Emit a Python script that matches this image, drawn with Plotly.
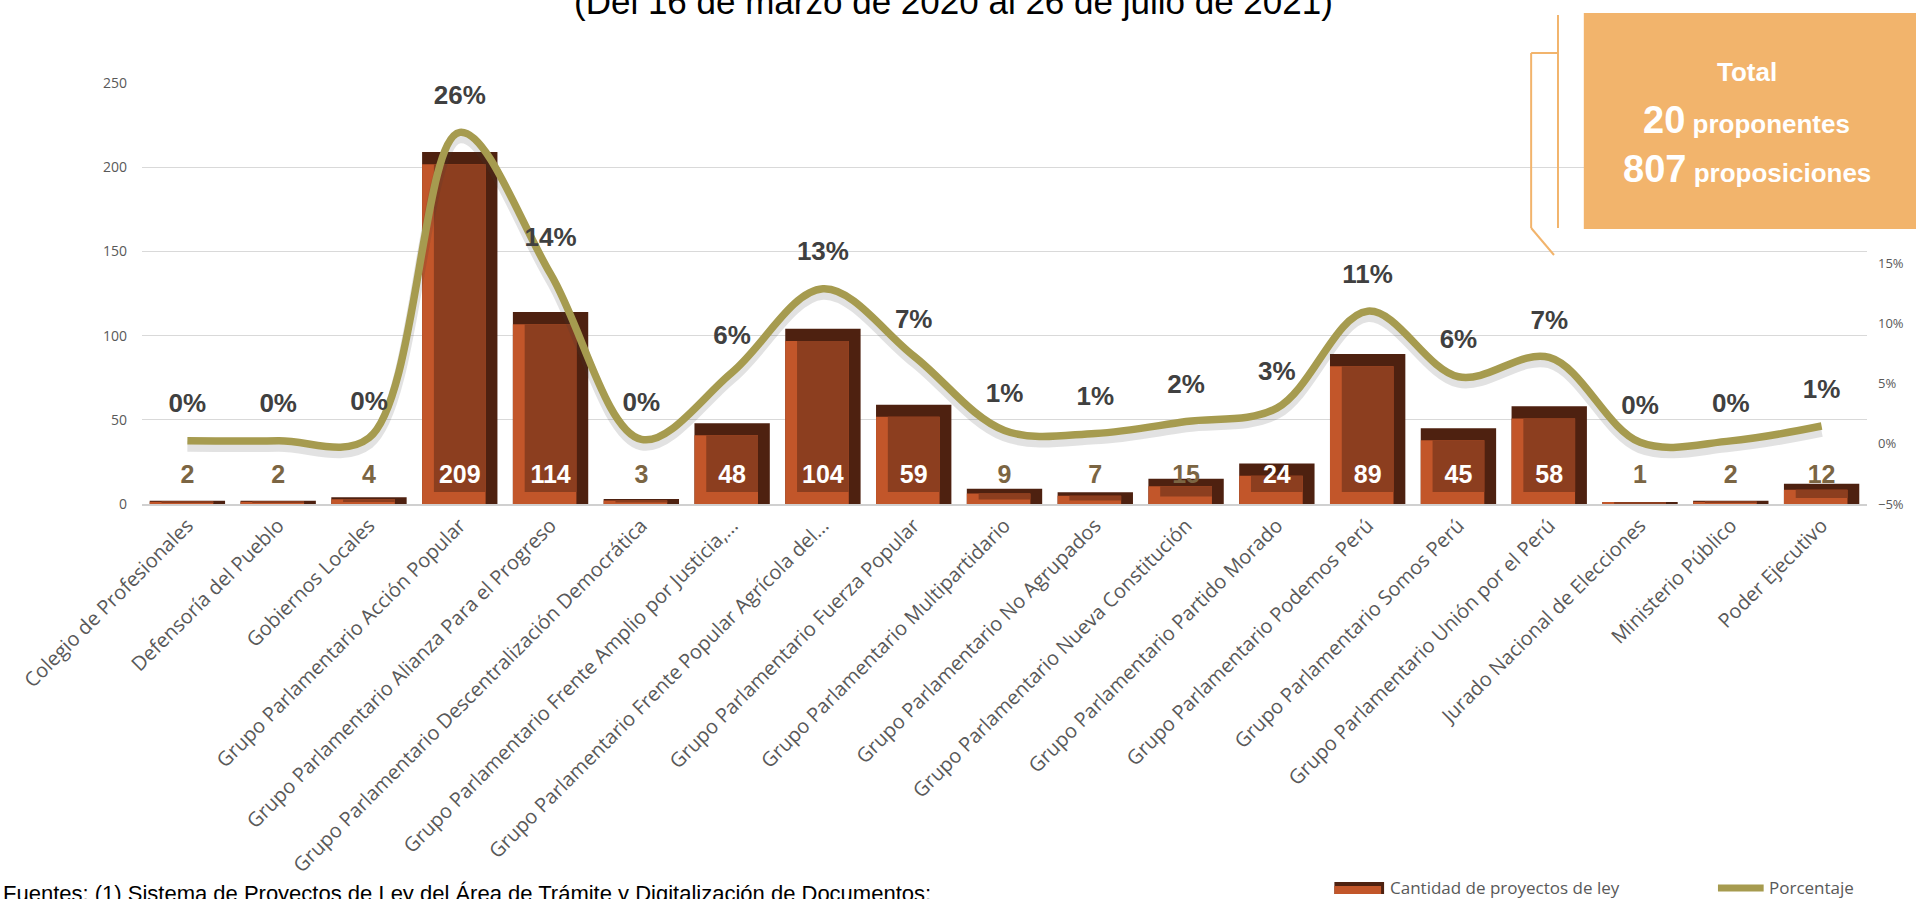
import plotly.graph_objects as go
import numpy as np

# ---------------- data ----------------
categories = [
    "Colegio de Profesionales",
    "Defensoría del Pueblo",
    "Gobiernos Locales",
    "Grupo Parlamentario Acción Popular",
    "Grupo Parlamentario Alianza Para el Progreso",
    "Grupo Parlamentario Descentralización Democrática",
    "Grupo Parlamentario Frente Amplio por Justicia,...",
    "Grupo Parlamentario Frente Popular Agrícola del...",
    "Grupo Parlamentario Fuerza Popular",
    "Grupo Parlamentario Multipartidario",
    "Grupo Parlamentario No Agrupados",
    "Grupo Parlamentario Nueva Constitución",
    "Grupo Parlamentario Partido Morado",
    "Grupo Parlamentario Podemos Perú",
    "Grupo Parlamentario Somos Perú",
    "Grupo Parlamentario Unión por el Perú",
    "Jurado Nacional de Elecciones",
    "Ministerio Público",
    "Poder Ejecutivo",
]
cantidad = [2, 2, 4, 209, 114, 3, 48, 104, 59, 9, 7, 15, 24, 89, 45, 58, 1, 2, 12]
porcentaje = [0.00248, 0.00248, 0.00496, 0.25898, 0.14126, 0.00372, 0.05948, 0.12887,
              0.07311, 0.01115, 0.00867, 0.01859, 0.02974, 0.11029, 0.05576, 0.07187,
              0.00124, 0.00248, 0.01487]
left_ticks = [0, 50, 100, 150, 200, 250]
right_ticks = [-0.05, 0.0, 0.05, 0.10, 0.15]
title_text = "(Del 16 de marzo de 2020 al 26 de julio de 2021)"
total_proponentes = 20
total_proposiciones = 807

# ---------------- styles ----------------
W, H = 1916, 899
PL, PR, PT, PB = 142, 1878, 83, 504  # plot area in pixels
BOLDF = "Liberation Sans, Arial, sans-serif"
CAL = "Open Sans, Calibri, sans-serif"
DARK = "#4E2110"
ORANGE = "#C2562A"
MID = "#8C3E1F"
OLIVE = "#A69B4F"
BOXC = "#F2B46C"
GREY = "#595959"


def px(x):
    return (x - PL) / (PR - PL)


def py(y):
    return (PB - y) / (PB - PT)


vals = np.array(cantidad, dtype=float)
pct = np.array(porcentaje, dtype=float)
n = len(categories)
xi = np.arange(n)

BW = 0.83
bev_x = 0.13
bev_y = np.minimum(7.2, vals * 0.3)

fig = go.Figure()

# outer (dark top/right bevel)
fig.add_trace(go.Bar(x=xi, y=vals, width=BW, offset=-BW / 2, marker_color=DARK,
                     marker_line_width=0, name="Cantidad de proyectos de ley",
                     showlegend=False, hoverinfo="skip"))
# left/bottom light bevel
fig.add_trace(go.Bar(x=xi, y=vals - bev_y, width=BW - bev_x, offset=-BW / 2,
                     marker_color=ORANGE, marker_line_width=0, showlegend=False,
                     hoverinfo="skip"))
# centre face
fig.add_trace(go.Bar(x=xi, y=vals - 2 * bev_y, base=bev_y, width=BW - 2 * bev_x,
                     offset=-BW / 2 + bev_x, marker_color=MID, marker_line_width=0,
                     showlegend=False, customdata=vals,
                     hovertemplate="%{customdata}<extra></extra>"))

# bar value labels (inside, near base)
lbl_colors = ["#FFFFFF" if v >= 20 else "#7B6543" for v in cantidad]
fig.add_trace(go.Scatter(x=xi, y=[16] * n, mode="text",
                         text=[f"<b>{v}</b>" for v in cantidad],
                         textfont=dict(family=BOLDF, size=25, color=lbl_colors),
                         textposition="middle center", showlegend=False,
                         hoverinfo="skip"))

# line shadow
fig.add_trace(go.Scatter(x=xi, y=pct - 0.0045, yaxis="y2", mode="lines",
                         line=dict(color="rgba(60,60,60,0.15)", width=11, shape="spline"),
                         showlegend=False, hoverinfo="skip"))
# percentage line
fig.add_trace(go.Scatter(x=xi, y=pct, yaxis="y2", mode="lines",
                         line=dict(color=OLIVE, width=7.5, shape="spline"),
                         name="Porcentaje", showlegend=False,
                         hovertemplate="%{y:.0%}<extra></extra>"))
# percentage labels
fig.add_trace(go.Scatter(x=xi, y=pct + 0.029, yaxis="y2", mode="text",
                         text=[f"<b>{p:.0%}</b>" for p in pct],
                         textfont=dict(family=BOLDF, size=26, color="#404040"),
                         textposition="middle center", showlegend=False,
                         hoverinfo="skip"))

shapes = []
annotations = []

# title (partly cut at top, as in the reference)
annotations.append(dict(text=title_text, x=px(959), y=py(1), xref="paper", yref="paper",
                        xanchor="center", yanchor="middle", showarrow=False,
                        font=dict(family=BOLDF, size=35, color="#000000")))

# total box
shapes.append(dict(type="rect", xref="paper", yref="paper", x0=px(1593), x1=px(1930),
                   y0=py(229), y1=py(13), fillcolor=BOXC, line_width=0, layer="above"))
for (x0, y0, x1, y1) in [(1567, 15, 1567, 228), (1540, 53, 1567, 53),
                         (1540, 53, 1540, 228), (1540, 228, 1563, 255)]:
    shapes.append(dict(type="line", xref="paper", yref="paper", x0=px(x0), x1=px(x1),
                       y0=py(y0), y1=py(y1), line=dict(color=BOXC, width=2),
                       layer="above"))
box_lines = [
    ("<b>Total</b>", 72),
    (f"<b><span style='font-size:38px'>{total_proponentes}</span> proponentes</b>", 120),
    (f"<b><span style='font-size:38px'>{total_proposiciones}</span> proposiciones</b>", 169),
]
for txt, yy in box_lines:
    annotations.append(dict(text=txt, x=px(1757), y=py(yy), xref="paper", yref="paper",
                            xanchor="center", yanchor="middle", showarrow=False,
                            font=dict(family=BOLDF, size=26, color="white")))

# custom legend
shapes.append(dict(type="rect", xref="paper", yref="paper", x0=px(1342), x1=px(1392),
                   y0=py(894), y1=py(882), fillcolor=DARK, line_width=0))
shapes.append(dict(type="rect", xref="paper", yref="paper", x0=px(1342), x1=px(1389),
                   y0=py(894), y1=py(886), fillcolor=ORANGE, line_width=0))
shapes.append(dict(type="line", xref="paper", yref="paper", x0=px(1728), x1=px(1774),
                   y0=py(888), y1=py(888), line=dict(color=OLIVE, width=7)))
annotations.append(dict(text="Cantidad de proyectos de ley", x=px(1396), y=py(887),
                        xref="paper", yref="paper", xanchor="left", yanchor="middle",
                        showarrow=False, font=dict(family=CAL, size=17, color=GREY)))
annotations.append(dict(text="Porcentaje", x=px(1777), y=py(887),
                        xref="paper", yref="paper", xanchor="left", yanchor="middle",
                        showarrow=False, font=dict(family=CAL, size=17, color=GREY)))

# footnote (partly cut at bottom, as in the reference)
annotations.append(dict(text="Fuentes: (1) Sistema de Proyectos de Ley del Área de Trámite y Digitalización de Documentos;",
                        x=px(0), y=py(893), xref="paper", yref="paper", xanchor="left",
                        yanchor="middle", showarrow=False,
                        font=dict(family=BOLDF, size=22, color="#000000")))

fig.update_layout(
    width=W, height=H, autosize=False,
    margin=dict(l=PL, r=W - PR, t=PT, b=H - PB, pad=0),
    paper_bgcolor="white", plot_bgcolor="white",
    barmode="overlay",
    showlegend=False,
    xaxis=dict(tickmode="array", tickvals=list(xi), ticktext=categories,
               range=[-0.5, n - 0.5], tickangle=-45,
               tickfont=dict(family=CAL, size=20, color=GREY),
               showgrid=False, showline=True, linecolor="#D0D0D0", linewidth=2,
               ticks="", zeroline=False),
    yaxis=dict(range=[0, 250], tickvals=left_ticks, showgrid=True, gridcolor="#D9D9D9",
               gridwidth=1, zeroline=False, showline=False,
               tickfont=dict(family=CAL, size=14, color=GREY), ticklabelstandoff=14),
    yaxis2=dict(range=[-0.05, 0.30], tickvals=right_ticks, tickformat=".0%",
                overlaying="y", side="right", showgrid=False, zeroline=False,
                showline=False, tickfont=dict(family=CAL, size=13, color=GREY),
                ticklabelstandoff=10),
    shapes=shapes, annotations=annotations,
    hovermode="closest",
)

fig.write_html("out.html", config={"displayModeBar": False},
               post_script="document.body.style.margin='0';document.body.style.overflow='hidden';")
